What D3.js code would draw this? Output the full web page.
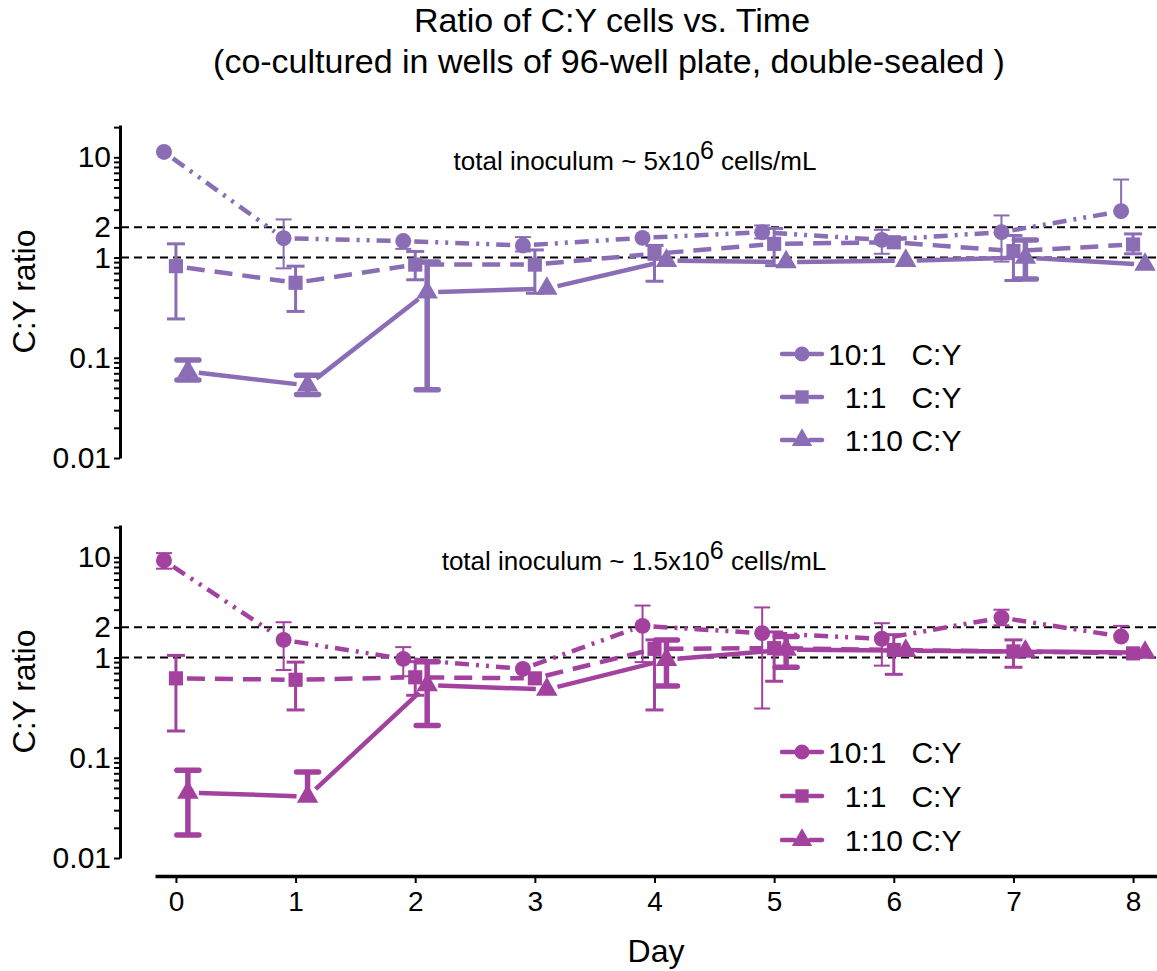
<!DOCTYPE html>
<html>
<head>
<meta charset="utf-8">
<script src="https://cdn.jsdelivr.net/npm/d3@7"></script>
<style>
body { margin: 0; background: #fff; }
text { font-family: "Liberation Sans", Arial, Helvetica, sans-serif; fill: #000; }
.pre { white-space: pre; }
</style>
</head>
<body>
<svg id="chart" width="1157" height="971"></svg>
<script>
const days = [0, 1, 2, 3, 4, 5, 6, 7, 8];
const seriesNames = ["10:1   C:Y", "  1:1   C:Y", "  1:10 C:Y"];
const yTickLabels = [0.01, 0.1, 1, 2, 10];
const refLines = [1, 2];

// top panel (~5x10^6 cells/mL)
const topCircle = [11.3, 1.56, 1.46, 1.32, 1.57, 1.79, 1.5, 1.79, 2.9];
const topCircleLo = [11.3, 0.78, 1.22, 1.15, 1.45, 1.55, 1.09, 0.91, 2.9];
const topCircleHi = [11.3, 2.4, 1.46, 1.6, 1.7, 2.09, 1.89, 2.63, 6.0];
const topSquare = [0.82, 0.56, 0.85, 0.85, 1.09, 1.37, 1.42, 1.16, 1.35];
const topSquareLo = [0.244, 0.29, 0.6, 0.44, 0.58, 0.83, 1.3, 0.59, 1.09];
const topSquareHi = [1.37, 0.82, 1.15, 1.19, 1.32, 1.95, 1.55, 1.66, 1.72];
const topTri = [0.073, 0.053, 0.45, 0.49, 0.93, 0.9, 0.93, 1.0, 0.85];
const topTriLo = [0.06, 0.043, 0.048, 0.49, 0.93, 0.9, 0.93, 0.61, 0.85];
const topTriHi = [0.095, 0.067, 0.9, 0.49, 0.93, 0.9, 0.93, 1.5, 0.85];

// bottom panel (~1.5x10^6 cells/mL)
const botCircle = [9.3, 1.5, 0.97, 0.77, 2.07, 1.75, 1.54, 2.5, 1.62];
const botCircleLo = [7.7, 0.75, 0.65, 0.77, 0.9, 0.31, 0.83, 2.1, 1.62];
const botCircleHi = [11.0, 2.25, 1.27, 0.77, 3.3, 3.16, 2.2, 3.0, 2.07];
const botSquare = [0.62, 0.6, 0.635, 0.62, 1.22, 1.24, 1.19, 1.15, 1.1];
const botSquareLo = [0.185, 0.3, 0.42, 0.62, 0.3, 0.58, 0.68, 0.8, 1.1];
const botSquareHi = [1.05, 0.9, 0.91, 0.62, 1.5, 1.8, 1.69, 1.5, 1.1];
const botTri = [0.045, 0.041, 0.53, 0.48, 0.95, 1.2, 1.17, 1.15, 1.12];
const botTriLo = [0.017, 0.041, 0.21, 0.48, 0.52, 0.8, 1.17, 1.15, 1.12];
const botTriHi = [0.075, 0.072, 0.91, 0.48, 1.5, 1.62, 1.17, 1.15, 1.12];

const svg = d3.select("#chart");

let x = d3.scaleLinear().domain([-0.175, 8.2]).range([155, 1157]);

// x nudge per symbol, dash style, error bar weight
let styles = [
    { sym: d3.symbolCircle, size: 200, nudge: -0.1, dash: "14,7,3,7,3,7", eb: 2, cap: 16 },
    { sym: d3.symbolSquare, size: 200, nudge: 0, dash: "18,10", eb: 3, cap: 18 },
    { sym: d3.symbolTriangle, size: 200, nudge: 0.1, dash: null, eb: 5.5, cap: 22 }
];

let panels = [
    {
        top: 125, bottom: 458, color: "#8a6db5",
        series: [[topCircle, topCircleLo, topCircleHi], [topSquare, topSquareLo, topSquareHi], [topTri, topTriLo, topTriHi]],
        note: ["total inoculum ~ 5x10", "6", " cells/mL"], noteX: 635, noteY: 170,
        legendY: [354, 397, 440]
    },
    {
        top: 525, bottom: 858, color: "#a3419f",
        series: [[botCircle, botCircleLo, botCircleHi], [botSquare, botSquareLo, botSquareHi], [botTri, botTriLo, botTriHi]],
        note: ["total inoculum ~ 1.5x10", "6", " cells/mL"], noteX: 634, noteY: 570,
        legendY: [752, 796, 840]
    }
];

// log ticks 0.01 .. 20 (axis top is ~21)
let yTicks = [];
[-2, -1, 0, 1].forEach(k => {
    for (let m = 1; m <= 9; m++) yTicks.push(+(m * Math.pow(10, k)).toPrecision(3));
});
yTicks = yTicks.filter(v => v <= 20);

let gap = 11;
let segLine = d3.line();

panels.forEach(p => {
    let y = d3.scaleLog().domain([0.01, 21]).range([p.bottom, p.top]);

    // y axis
    let ax = svg.append("g")
        .attr("transform", "translate(120,0)")
        .call(d3.axisLeft(y).tickValues(yTicks).tickSize(6).tickSizeOuter(0).tickPadding(3)
            .tickFormat(d => yTickLabels.includes(d) ? String(d) : ""));
    ax.select(".domain").attr("stroke-width", 3);
    ax.selectAll(".tick line").attr("stroke-width", 2);
    ax.selectAll(".tick text").style("font-size", "30px").style("font-family", "Liberation Sans, Arial, sans-serif");

    svg.append("text")
        .attr("transform", "translate(35," + (p.top + p.bottom) / 2 + ") rotate(-90)")
        .attr("text-anchor", "middle")
        .style("font-size", "32px")
        .text("C:Y ratio");

    // reference lines
    svg.selectAll(null).data(refLines).enter().append("line")
        .attr("x1", 121).attr("x2", 1157)
        .attr("y1", d => y(d)).attr("y2", d => y(d))
        .attr("stroke", "#000").attr("stroke-width", 2).attr("stroke-dasharray", "8,5");

    // annotation
    let note = svg.append("text")
        .attr("x", p.noteX).attr("y", p.noteY)
        .attr("text-anchor", "middle")
        .style("font-size", "26px");
    note.append("tspan").text(p.note[0]);
    note.append("tspan").attr("dy", -11).style("font-size", "25px").text(p.note[1]);
    note.append("tspan").attr("dy", 11).text(p.note[2]);

    p.series.forEach((s, i) => {
        let st = styles[i];
        let vals = s[0], lo = s[1], hi = s[2];
        let pts = days.map((d, j) => [x(d + st.nudge), y(vals[j])]);
        let g = svg.append("g");

        // connecting lines, stopping short of the markers
        for (let j = 0; j < pts.length - 1; j++) {
            let a = pts[j], b = pts[j + 1];
            let dx = b[0] - a[0], dy = b[1] - a[1];
            let len = Math.sqrt(dx * dx + dy * dy);
            if (len <= 2 * gap) continue;
            let ux = dx / len, uy = dy / len;
            g.append("path")
                .attr("d", segLine([[a[0] + ux * gap, a[1] + uy * gap], [b[0] - ux * gap, b[1] - uy * gap]]))
                .attr("fill", "none")
                .attr("stroke", p.color)
                .attr("stroke-width", 4.5)
                .attr("stroke-dasharray", st.dash);
        }

        // error bars
        days.forEach((d, j) => {
            let cx = x(d + st.nudge);
            let yv = y(vals[j]), yl = y(lo[j]), yh = y(hi[j]);
            if (Math.abs(yl - yh) < 2) return;
            g.append("line").attr("x1", cx).attr("x2", cx).attr("y1", yl).attr("y2", yh)
                .attr("stroke", p.color).attr("stroke-width", st.eb);
            [yl, yh].forEach(ye => {
                if (Math.abs(ye - yv) < 4) return;
                g.append("line")
                    .attr("x1", cx - st.cap / 2).attr("x2", cx + st.cap / 2)
                    .attr("y1", ye).attr("y2", ye)
                    .attr("stroke", p.color).attr("stroke-width", st.eb)
                    .attr("stroke-linecap", i === 2 ? "round" : "butt");
            });
        });

        // markers
        g.selectAll(".m").data(days).enter().append("path")
            .attr("d", d3.symbol().type(st.sym).size(st.size))
            .attr("transform", (d, j) => "translate(" + pts[j][0] + "," + pts[j][1] + ")")
            .attr("fill", p.color);

        // legend entry
        let ly = p.legendY[i];
        svg.append("path").attr("d", segLine([[782, ly], [794, ly]]))
            .attr("stroke", p.color).attr("stroke-width", 4.5).attr("stroke-linecap", "round");
        svg.append("path").attr("d", segLine([[810, ly], [822, ly]]))
            .attr("stroke", p.color).attr("stroke-width", 4.5).attr("stroke-linecap", "round");
        svg.append("path")
            .attr("d", d3.symbol().type(st.sym).size(st.size * 0.9))
            .attr("transform", "translate(802," + ly + ")")
            .attr("fill", p.color);
        svg.append("text").attr("class", "pre")
            .attr("x", 828).attr("y", ly + 11)
            .style("font-size", "30px")
            .text(seriesNames[i]);
    });
});

// x axis (bottom panel only)
let xa = svg.append("g")
    .attr("transform", "translate(0,876)")
    .call(d3.axisBottom(x).tickValues(days).tickSize(7).tickSizeOuter(0).tickPadding(8));
xa.select(".domain").attr("stroke-width", 3.5);
xa.selectAll(".tick line").attr("stroke-width", 2);
xa.selectAll(".tick text").style("font-size", "28px").style("font-family", "Liberation Sans, Arial, sans-serif");

svg.append("text")
    .attr("x", 656).attr("y", 962)
    .attr("text-anchor", "middle")
    .style("font-size", "32px")
    .text("Day");

// title
svg.append("text").attr("x", 612).attr("y", 32).attr("text-anchor", "middle")
    .style("font-size", "34px").text("Ratio of C:Y cells vs. Time");
svg.append("text").attr("x", 609).attr("y", 73).attr("text-anchor", "middle")
    .style("font-size", "34px").text("(co-cultured in wells of 96-well plate, double-sealed )");
</script>
</body>
</html>
